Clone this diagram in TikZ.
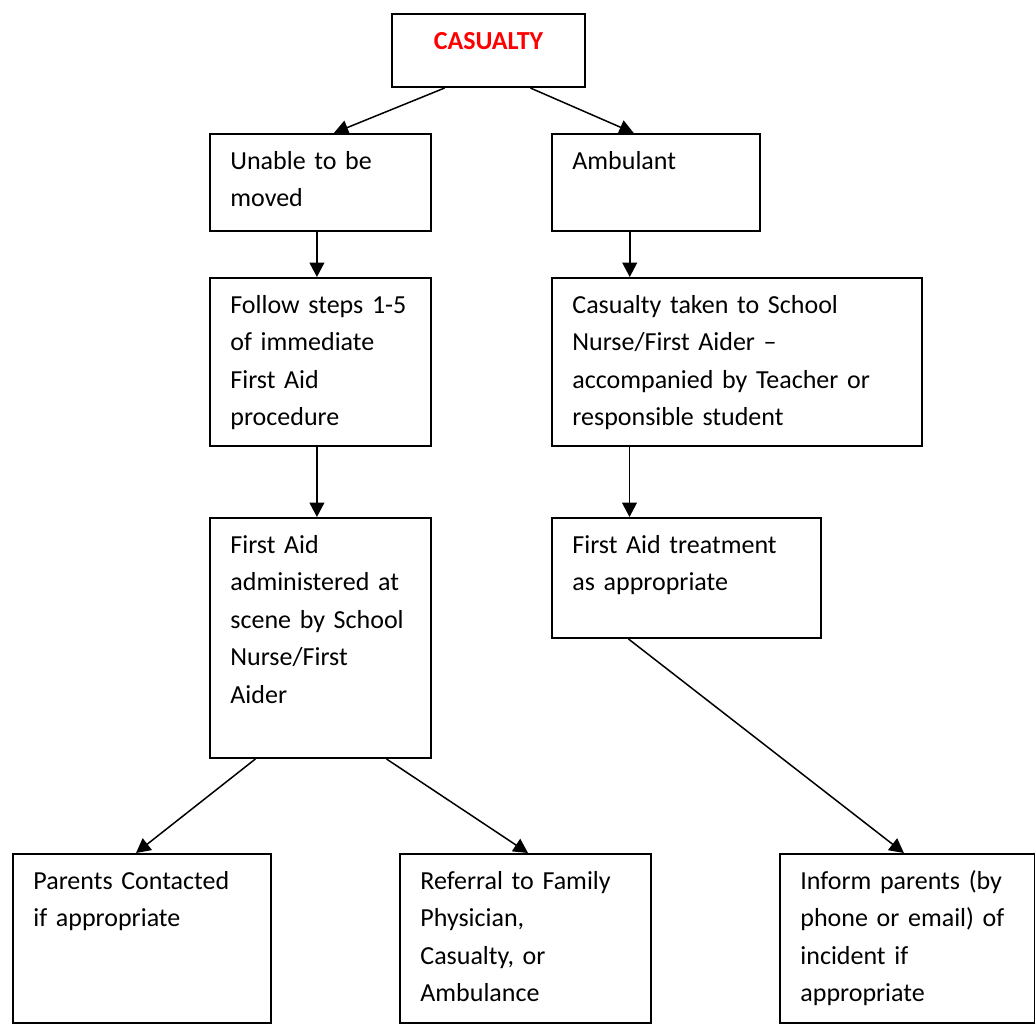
\documentclass[tikz,border=0pt]{standalone}
\usepackage{fontspec}
\setmainfont{Carlito}
\usetikzlibrary{arrows.meta,calc}
\begin{document}
\begin{tikzpicture}[x=0.5pt,y=-0.5pt,
  box/.style={draw,line width=1pt,inner sep=0pt,anchor=north west},
  txt/.style={inner sep=0pt,anchor=north west,align=left,text width=180pt,font=\fontsize{13}{18.75}\selectfont},
  arr/.style={line width=0.75pt,-{Triangle[length=7.2pt,width=7.4pt]}}]
\useasboundingbox (0,0) rectangle (1035,1024);
% boxes
\node[box,minimum width=96.5pt,minimum height=36.5pt] (cas) at (391,13) {};
\node[box,minimum width=110.5pt,minimum height=48.5pt] (unable) at (209,133) {};
\node[box,minimum width=104pt,minimum height=48.5pt] (amb) at (551,133) {};
\node[box,minimum width=110.5pt,minimum height=84pt] (follow) at (209,277) {};
\node[box,minimum width=185pt,minimum height=84pt] (taken) at (551,277) {};
\node[box,minimum width=110.5pt,minimum height=120pt] (admin) at (209,517) {};
\node[box,minimum width=134.5pt,minimum height=60pt] (treat) at (551,517) {};
\node[box,minimum width=129pt,minimum height=84.5pt] (parents) at (12,853) {};
\node[box,minimum width=125.5pt,minimum height=84.5pt] (referral) at (399,853) {};
\node[box,minimum width=127.5pt,minimum height=84.5pt] (inform) at (779,853) {};
% texts
\node[inner sep=0pt,anchor=base,font=\fontsize{13}{16}\selectfont\bfseries,text=red] (tcas) at ($(cas.north)+(0,36)$) {CASUALTY};
\node[txt] (tunable) at ($(unable.north west)+(21,9.75)$) {\strut Unable to be\\moved};
\node[txt] (tamb) at ($(amb.north west)+(21,9.75)$) {\strut Ambulant};
\node[txt] (tfollow) at ($(follow.north west)+(21,9.75)$) {\strut Follow steps 1-5\\of immediate\\First Aid\\procedure};
\node[txt] (ttaken) at ($(taken.north west)+(21,9.75)$) {\strut Casualty taken to School\\Nurse/First Aider –\\accompanied by Teacher or\\responsible student};
\node[txt] (tadmin) at ($(admin.north west)+(21,9.75)$) {\strut First Aid\\administered at\\scene by School\\Nurse/First\\Aider};
\node[txt] (ttreat) at ($(treat.north west)+(21,9.75)$) {\strut First Aid treatment\\as appropriate};
\node[txt] (tparents) at ($(parents.north west)+(21,9.75)$) {\strut Parents Contacted\\if appropriate};
\node[txt] (treferral) at ($(referral.north west)+(21,9.75)$) {\strut Referral to Family\\Physician,\\Casualty, or\\Ambulance};
\node[txt] (tinform) at ($(inform.north west)+(21,9.75)$) {\strut Inform parents (by\\phone or email) of\\incident if\\appropriate};
% connector start points
\coordinate (sU) at ($(unable.south west)!0.484!(unable.south east)$);
\coordinate (sA) at ($(amb.south west)!0.375!(amb.south east)$);
\coordinate (sF) at ($(follow.south west)!0.484!(follow.south east)$);
\coordinate (sT) at ($(taken.south west)!0.211!(taken.south east)$);
% arrows
\draw[arr] ($(cas.south west)!0.275!(cas.south east)$) -- ($(unable.north west)!0.56!(unable.north east)$);
\draw[arr] ($(cas.south west)!0.715!(cas.south east)$) -- ($(amb.north west)!0.394!(amb.north east)$);
\draw[arr] (sU) -- (follow.north -| sU);
\draw[arr] (sA) -- (taken.north -| sA);
\draw[arr] (sF) -- (admin.north -| sF);
\draw[arr] (sT) -- (treat.north -| sT);
\draw[arr] ($(admin.south west)!0.208!(admin.south east)$) -- ($(parents.north west)!0.477!(parents.north east)$);
\draw[arr] ($(admin.south west)!0.796!(admin.south east)$) -- ($(referral.north west)!0.51!(referral.north east)$);
\draw[arr] ($(treat.south west)!0.286!(treat.south east)$) -- ($(inform.north west)!0.486!(inform.north east)$);
\end{tikzpicture}
\end{document}
